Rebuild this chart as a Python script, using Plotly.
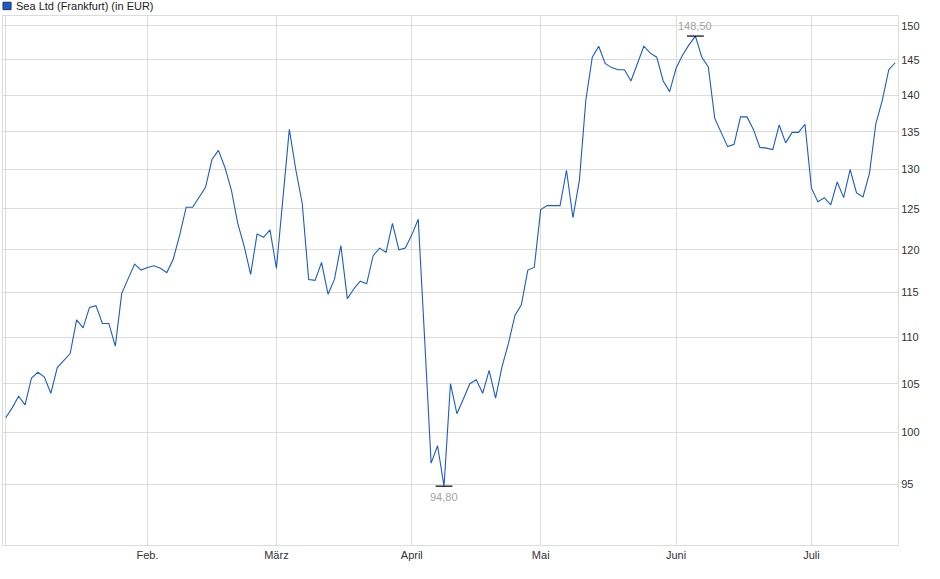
import math
import plotly.graph_objects as go

# Schlusskurse Sea Ltd (Frankfurt), in EUR, ein Wert pro Handelstag
prices = [101.5, 102.5, 103.7, 102.8, 105.6, 106.2, 105.7, 104.0, 106.7, 107.4,
          108.2, 111.9, 111.0, 113.3, 113.5, 111.5, 111.5, 109.0, 114.9, 116.6,
          118.3, 117.6, 117.9, 118.1, 117.8, 117.3, 118.9, 121.8, 125.2, 125.2,
          126.5, 127.7, 131.3, 132.5, 130.3, 127.4, 123.2, 120.4, 117.1, 121.9,
          121.5, 122.4, 117.8, 125.9, 135.3, 130.0, 125.7, 116.5, 116.4, 118.5,
          114.8, 116.5, 120.5, 114.3, 115.4, 116.3, 116.0, 119.3, 120.2, 119.7,
          123.2, 120.0, 120.2, 121.8, 123.7, 109.7, 97.0, 98.7, 94.8, 105.0,
          101.9, 103.4, 105.0, 105.4, 104.0, 106.4, 103.5, 106.8, 109.3, 112.4,
          113.6, 117.6, 117.9, 124.9, 125.4, 125.4, 125.4, 129.9, 123.9, 128.6,
          139.3, 145.4, 147.0, 144.5, 143.9, 143.6, 143.6, 142.0, 144.5, 147.0,
          146.0, 145.4, 142.0, 140.5, 143.8, 145.7, 147.2, 148.5, 145.4, 144.0,
          136.8, 134.8, 133.0, 133.3, 137.0, 137.0, 135.3, 132.9, 132.8, 132.6,
          135.9, 133.5, 134.9, 134.9, 136.0, 127.6, 125.9, 126.4, 125.5, 128.4,
          126.4, 130.0, 127.0, 126.5, 129.5, 136.1, 139.3, 143.6, 144.6]

# erster Handelstag je Monat (Index) und Beschriftung
month_start = [0, 22, 42, 63, 83, 104, 125]
month_labels = ["", "Feb.", "März", "April", "Mai", "Juni", "Juli"]

y_ticks = [95, 100, 105, 110, 115, 120, 125, 130, 135, 140, 145, 150]

line_col = "#1c5cc4"
grid_col = "#dcdcdc"
label_col = "#a3a3a3"

days = list(range(len(prices)))
i_max = prices.index(max(prices))
i_min = prices.index(min(prices))

fig = go.Figure()
fig.add_trace(go.Scatter(x=days, y=prices, mode="lines",
                         line=dict(color=line_col, width=1.1),
                         hoverinfo="y", showlegend=False))
# Hoch / Tief Markierung
fig.add_trace(go.Scatter(x=[i_max, i_min], y=[prices[i_max], prices[i_min]],
                         mode="markers",
                         marker=dict(symbol="line-ew", size=12,
                                     line=dict(color="black", width=1.2)),
                         hoverinfo="skip", showlegend=False))

def fmt(v):
    return f"{v:.2f}".replace(".", ",")

fig.add_annotation(x=i_max, y=math.log10(prices[i_max]), text=fmt(prices[i_max]),
                   showarrow=False, yshift=10, font=dict(color=label_col, size=11))
fig.add_annotation(x=i_min, y=math.log10(prices[i_min]), text=fmt(prices[i_min]),
                   showarrow=False, yshift=-11, font=dict(color=label_col, size=11))

# Legende oben links
fig.add_shape(type="rect", xref="paper", yref="paper",
              x0=0.0, x1=0.009, y0=1.012, y1=1.026,
              fillcolor="#1c5cc4", line=dict(color="#1a2f66", width=1))
fig.add_annotation(xref="paper", yref="paper", x=0.012, y=1.019,
                   xanchor="left", yanchor="middle", showarrow=False,
                   text="Sea Ltd (Frankfurt) (in EUR)",
                   font=dict(size=11, color="#222"))

fig.update_layout(
    width=940, height=579,
    margin=dict(l=3, r=42, t=16, b=34),
    paper_bgcolor="white", plot_bgcolor="white",
    font=dict(family="Liberation Sans, Arial, sans-serif", size=11, color="#333"),
    hovermode="x",
)
fig.update_xaxes(range=[-0.42, 138.43], tickvals=month_start, ticktext=month_labels,
                 showgrid=True, gridcolor=grid_col, gridwidth=1,
                 showline=True, linecolor=grid_col, mirror=True,
                 ticks="", zeroline=False)
fig.update_yaxes(type="log", range=[math.log10(89.4), math.log10(151.5)],
                 side="right", tickvals=y_ticks, ticktext=[str(t) for t in y_ticks],
                 showgrid=True, gridcolor=grid_col, gridwidth=1,
                 showline=True, linecolor=grid_col, mirror=True,
                 ticks="", zeroline=False)

# Seitenrand des Browsers entfernen, damit die Grafik bei (0,0) beginnt
fig.write_html("out.html", config={"displayModeBar": False},
               post_script="document.body.style.margin='0';")
